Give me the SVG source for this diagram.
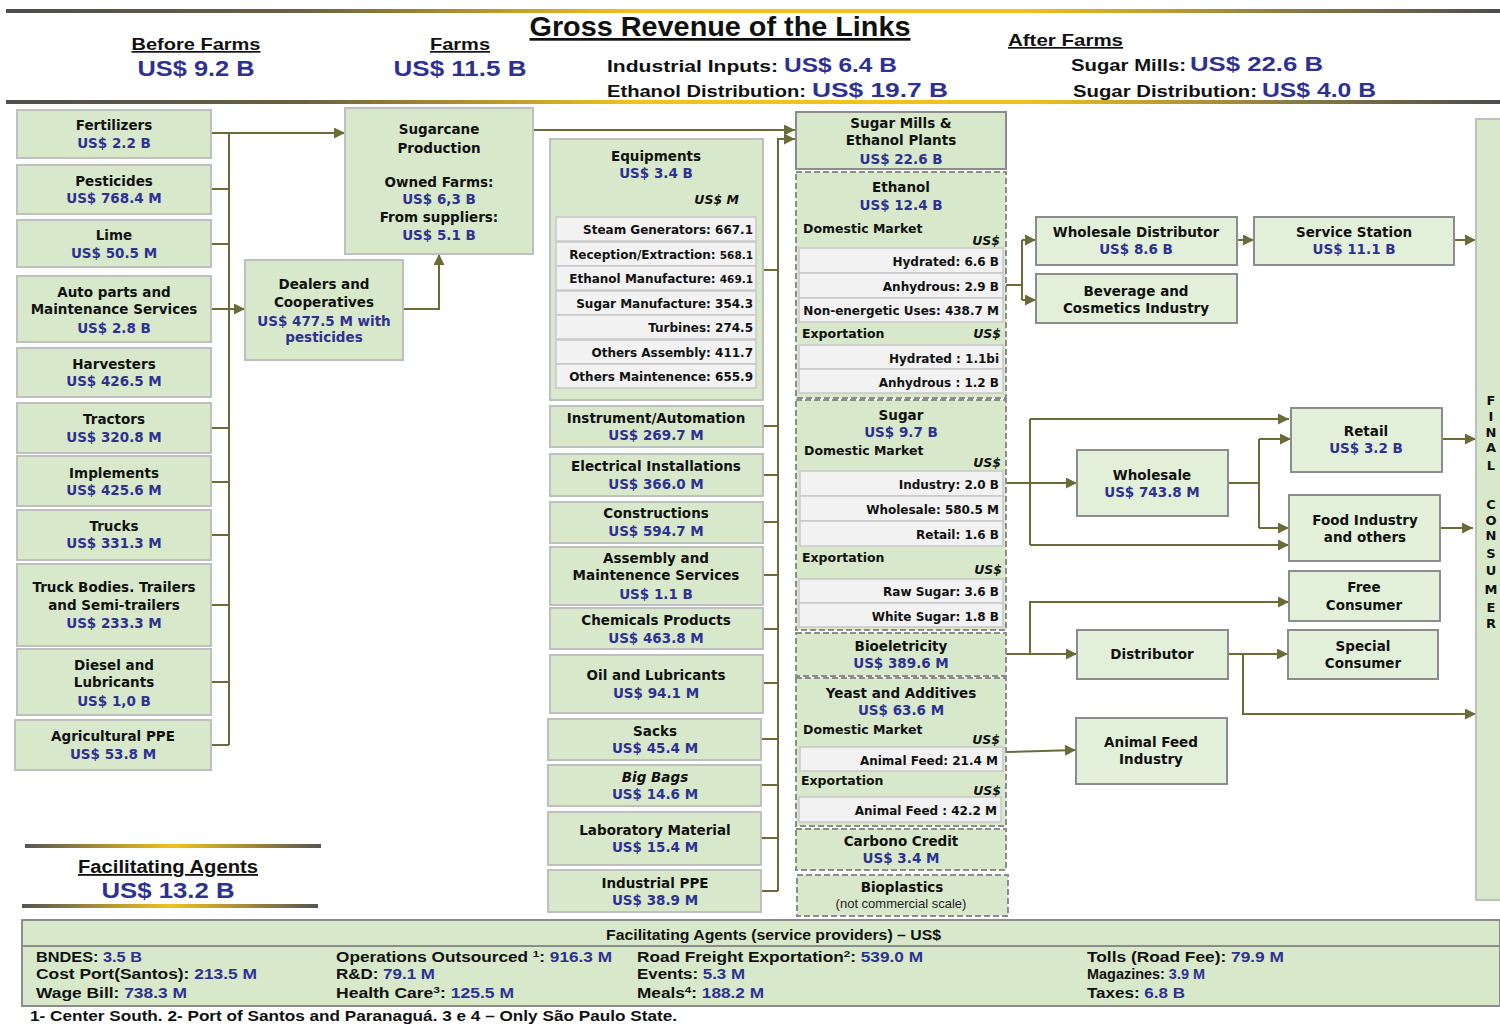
<svg xmlns="http://www.w3.org/2000/svg" width="1500" height="1024" viewBox="0 0 1500 1024">
<defs>
<linearGradient id="gh" x1="0" y1="0" x2="1" y2="0">
<stop offset="0" stop-color="#4d4d4d"/><stop offset="0.2" stop-color="#6b6142"/><stop offset="0.42" stop-color="#f2c21b"/><stop offset="0.68" stop-color="#f2c21b"/><stop offset="0.86" stop-color="#8a7a45"/><stop offset="1" stop-color="#4d4d4d"/>
</linearGradient>
<linearGradient id="gf" x1="0" y1="0" x2="1" y2="0">
<stop offset="0" stop-color="#555555"/><stop offset="0.5" stop-color="#f2c21b"/><stop offset="1" stop-color="#555555"/>
</linearGradient>
<marker id="a" viewBox="0 0 10 10" refX="10" refY="5" markerWidth="12" markerHeight="11" markerUnits="userSpaceOnUse" orient="auto"><path d="M0,0 L10,5 L0,10 z" fill="#6b6b3a"/></marker>
<style>
.b{fill:#d8e9cb;stroke:#bfbfbf;stroke-width:2}
.r{fill:#e3f0d9;stroke:#8c8c8c;stroke-width:2}
.s{fill:#d8e9cb;stroke:#8c8c8c;stroke-width:2}
.d{fill:#d8e9cb;stroke:#8c8c8c;stroke-width:2;stroke-dasharray:6 3}
.row{fill:#f2f2f2;stroke:#c8c8c8;stroke-width:1.5}
.t{font-family:"DejaVu Sans",Verdana,sans-serif;font-weight:bold;font-size:13.5px;fill:#111;text-anchor:middle}
.v{fill:#2e3192}
.rt{font-family:"DejaVu Sans",Verdana,sans-serif;font-weight:bold;font-size:12px;fill:#111;text-anchor:end}
.lt{font-family:"DejaVu Sans",Verdana,sans-serif;font-weight:bold;font-size:12.5px;fill:#111}
.us{font-family:"DejaVu Sans",Verdana,sans-serif;font-weight:bold;font-style:italic;font-size:12.5px;fill:#111;text-anchor:end}
.c{fill:none;stroke:#6b6b3a;stroke-width:2}
.ca{fill:none;stroke:#6b6b3a;stroke-width:2;marker-end:url(#a)}
.h{font-family:"Liberation Sans",Arial,sans-serif;font-weight:bold;fill:#111}
.hv{font-family:"Liberation Sans",Arial,sans-serif;font-weight:bold;fill:#2e3192}
.f{font-family:"Liberation Sans",Arial,sans-serif;font-weight:bold;font-size:14px;fill:#111}
.fc{font-family:"DejaVu Sans",Verdana,sans-serif;font-weight:bold;font-size:13px;fill:#111;text-anchor:middle}
</style>
</defs>
<rect width="1500" height="1024" fill="#ffffff"/>

<g id="header">
<rect x="6" y="9" width="1494" height="4" fill="url(#gh)"/>
<rect x="6" y="100" width="1494" height="4" fill="url(#gh)"/>
<text class="h" x="720" y="36" font-size="27" text-anchor="middle" text-decoration="underline" textLength="381" lengthAdjust="spacingAndGlyphs">Gross Revenue of the Links</text>
<text class="h" x="196" y="50" font-size="17" text-anchor="middle" text-decoration="underline" textLength="129" lengthAdjust="spacingAndGlyphs">Before Farms</text>
<text class="hv" x="196" y="76" font-size="22" text-anchor="middle" textLength="117" lengthAdjust="spacingAndGlyphs">US$ 9.2 B</text>
<text class="h" x="460" y="50" font-size="17" text-anchor="middle" text-decoration="underline" textLength="60" lengthAdjust="spacingAndGlyphs">Farms</text>
<text class="hv" x="460" y="76" font-size="22" text-anchor="middle" textLength="133" lengthAdjust="spacingAndGlyphs">US$ 11.5 B</text>
<text class="h" x="607" y="72" font-size="17" textLength="171" lengthAdjust="spacingAndGlyphs">Industrial Inputs:</text>
<text class="hv" x="784" y="72" font-size="21" textLength="113" lengthAdjust="spacingAndGlyphs">US$ 6.4 B</text>
<text class="h" x="607" y="97" font-size="17" textLength="199" lengthAdjust="spacingAndGlyphs">Ethanol Distribution:</text>
<text class="hv" x="812" y="97" font-size="21" textLength="136" lengthAdjust="spacingAndGlyphs">US$  19.7 B</text>
<text class="h" x="1008" y="46" font-size="17" text-decoration="underline" textLength="115" lengthAdjust="spacingAndGlyphs">After Farms</text>
<text class="h" x="1071" y="71" font-size="17" textLength="115" lengthAdjust="spacingAndGlyphs">Sugar Mills:</text>
<text class="hv" x="1190" y="71" font-size="21" textLength="133" lengthAdjust="spacingAndGlyphs">US$ 22.6 B</text>
<text class="h" x="1073" y="97" font-size="17" textLength="184" lengthAdjust="spacingAndGlyphs">Sugar Distribution:</text>
<text class="hv" x="1262" y="97" font-size="21" textLength="114" lengthAdjust="spacingAndGlyphs">US$ 4.0 B</text>
</g>

<g id="connectors">
<path class="c" d="M229,133 V745"/>
<path class="ca" d="M211,133 H345"/>
<path class="c" d="M211,189 H229 M211,244 H229 M211,428 H229 M211,482 H229 M211,535 H229 M211,605 H229 M211,682 H229 M211,745 H229"/>
<path class="ca" d="M211,309 H245"/>
<path class="ca" d="M403,309 H439 V254"/>
<path class="ca" d="M533,130 H795"/>
<path class="ca" d="M778,891 V139 H795"/>
<path class="c" d="M763,270 H778 M763,426 H778 M763,475 H778 M763,522 H778 M763,575 H778 M763,629 H778 M763,683 H778 M761,739 H778 M761,785 H778 M761,838 H778 M761,891 H778"/>
<path class="c" d="M1006,285 H1022 M1022,240 V300"/>
<path class="ca" d="M1022,240 H1036"/>
<path class="ca" d="M1022,300 H1036"/>
<path class="ca" d="M1237,240 H1254"/>
<path class="ca" d="M1454,240 H1476"/>
<path class="ca" d="M1006,483 H1077"/>
<path class="c" d="M1030,419 V545"/>
<path class="ca" d="M1030,419 H1289"/>
<path class="ca" d="M1030,545 H1289"/>
<path class="c" d="M1228,483 H1259 M1259,439 V528"/>
<path class="ca" d="M1259,439 H1291"/>
<path class="ca" d="M1259,528 H1289"/>
<path class="ca" d="M1442,439 H1476"/>
<path class="ca" d="M1440,528 H1473"/>
<path class="ca" d="M1006,654 H1077"/>
<path class="ca" d="M1030,654 V602 H1289"/>
<path class="ca" d="M1228,654 H1288"/>
<path class="ca" d="M1243,654 V714 H1476"/>
<path class="ca" d="M1006,752 L1076,750"/>
</g>

<g id="fertilizers"><rect class="b" x="17" y="110" width="194" height="48"/><text class="t" x="114" y="130">Fertilizers</text><text class="t v" x="114" y="148">US$ 2.2 B</text></g>
<g id="pesticides"><rect class="b" x="17" y="165" width="194" height="49"/><text class="t" x="114" y="186">Pesticides</text><text class="t v" x="114" y="203">US$ 768.4 M</text></g>
<g id="lime"><rect class="b" x="17" y="220" width="194" height="47"/><text class="t" x="114" y="240">Lime</text><text class="t v" x="114" y="258">US$ 50.5 M</text></g>
<g id="autoparts"><rect class="b" x="17" y="276" width="194" height="66"/><text class="t" x="114" y="297">Auto parts and</text><text class="t" x="114" y="314">Maintenance  Services</text><text class="t v" x="114" y="333">US$ 2.8 B</text></g>
<g id="harvesters"><rect class="b" x="17" y="348" width="194" height="49"/><text class="t" x="114" y="369">Harvesters</text><text class="t v" x="114" y="386">US$ 426.5 M</text></g>
<g id="tractors"><rect class="b" x="17" y="403" width="194" height="50"/><text class="t" x="114" y="424">Tractors</text><text class="t v" x="114" y="442">US$ 320.8 M</text></g>
<g id="implements"><rect class="b" x="17" y="456" width="194" height="50"/><text class="t" x="114" y="478">Implements</text><text class="t v" x="114" y="495">US$ 425.6 M</text></g>
<g id="trucks"><rect class="b" x="17" y="510" width="194" height="50"/><text class="t" x="114" y="531">Trucks</text><text class="t v" x="114" y="548">US$ 331.3 M</text></g>
<g id="truckbodies"><rect class="b" x="17" y="564" width="194" height="82"/><text class="t" x="114" y="592">Truck Bodies. Trailers</text><text class="t" x="114" y="610">and Semi-trailers</text><text class="t v" x="114" y="628">US$ 233.3 M</text></g>
<g id="diesel"><rect class="b" x="17" y="649" width="194" height="66"/><text class="t" x="114" y="670">Diesel and</text><text class="t" x="114" y="687">Lubricants</text><text class="t v" x="114" y="706">US$ 1,0 B</text></g>
<g id="agrippe"><rect class="b" x="15" y="720" width="196" height="50"/><text class="t" x="113" y="741">Agricultural  PPE</text><text class="t v" x="113" y="759">US$ 53.8 M</text></g>

<g id="sugarcane"><rect class="b" x="345" y="108" width="188" height="146"/><text class="t" x="439" y="134">Sugarcane</text><text class="t" x="439" y="153">Production</text><text class="t" x="439" y="187">Owned Farms:</text><text class="t v" x="439" y="204">US$ 6,3 B</text><text class="t" x="439" y="222">From suppliers:</text><text class="t v" x="439" y="240">US$ 5.1 B</text></g>
<g id="dealers"><rect class="b" x="245" y="260" width="158" height="100"/><text class="t" x="324" y="289">Dealers and</text><text class="t" x="324" y="307">Cooperatives</text><text class="t v" x="324" y="326">US$ 477.5 M with</text><text class="t v" x="324" y="342">pesticides</text></g>

<g id="equipments"><rect class="b" x="550" y="139" width="213" height="261"/><text class="t" x="656" y="161">Equipments</text><text class="t v" x="656" y="178">US$ 3.4 B</text><text class="us" x="739" y="204">US$ M</text>
<rect class="row" x="556" y="217" width="200" height="24"/><text class="rt" x="753" y="234">Steam Generators: 667.1</text>
<rect class="row" x="556" y="242" width="200" height="24"/><text class="rt" x="753" y="259">Reception/Extraction: <tspan font-size="10.5">568.1</tspan></text>
<rect class="row" x="556" y="266" width="200" height="24"/><text class="rt" x="753" y="283">Ethanol Manufacture: <tspan font-size="10.5">469.1</tspan></text>
<rect class="row" x="556" y="291" width="200" height="24"/><text class="rt" x="753" y="308">Sugar Manufacture: 354.3</text>
<rect class="row" x="556" y="315" width="200" height="24"/><text class="rt" x="753" y="332">Turbines: 274.5</text>
<rect class="row" x="556" y="340" width="200" height="24"/><text class="rt" x="753" y="357">Others Assembly: 411.7</text>
<rect class="row" x="556" y="364" width="200" height="24"/><text class="rt" x="753" y="381">Others Maintenence: 655.9</text></g>
<g id="instrument"><rect class="b" x="550" y="406" width="213" height="41"/><text class="t" x="656" y="423">Instrument/Automation</text><text class="t v" x="656" y="440">US$ 269.7 M</text></g>
<g id="electrical"><rect class="b" x="550" y="454" width="213" height="42"/><text class="t" x="656" y="471">Electrical Installations</text><text class="t v" x="656" y="489">US$ 366.0 M</text></g>
<g id="constructions"><rect class="b" x="550" y="502" width="213" height="41"/><text class="t" x="656" y="518">Constructions</text><text class="t v" x="656" y="536">US$  594.7 M</text></g>
<g id="assembly"><rect class="b" x="550" y="547" width="213" height="58"/><text class="t" x="656" y="563">Assembly and</text><text class="t" x="656" y="580">Maintenence  Services</text><text class="t v" x="656" y="599">US$ 1.1 B</text></g>
<g id="chemicals"><rect class="b" x="550" y="608" width="213" height="41"/><text class="t" x="656" y="625">Chemicals Products</text><text class="t v" x="656" y="643">US$ 463.8 M</text></g>
<g id="oil"><rect class="b" x="550" y="655" width="213" height="58"/><text class="t" x="656" y="680">Oil and Lubricants</text><text class="t v" x="656" y="698">US$ 94.1 M</text></g>
<g id="sacks"><rect class="b" x="548" y="719" width="213" height="41"/><text class="t" x="655" y="736">Sacks</text><text class="t v" x="655" y="753">US$  45.4 M</text></g>
<g id="bigbags"><rect class="b" x="548" y="765" width="213" height="41"/><text class="t" x="655" y="782" font-style="italic">Big Bags</text><text class="t v" x="655" y="799">US$ 14.6 M</text></g>
<g id="laboratory"><rect class="b" x="548" y="812" width="213" height="53"/><text class="t" x="655" y="835">Laboratory Material</text><text class="t v" x="655" y="852">US$ 15.4 M</text></g>
<g id="industrialppe"><rect class="b" x="548" y="870" width="213" height="42"/><text class="t" x="655" y="888">Industrial  PPE</text><text class="t v" x="655" y="905">US$ 38.9 M</text></g>

<g id="sugarmills"><rect class="s" x="796" y="112" width="210" height="57"/><text class="t" x="901" y="128">Sugar Mills &amp;</text><text class="t" x="901" y="145">Ethanol Plants</text><text class="t v" x="901" y="164">US$ 22.6 B</text></g>
<g id="ethanol"><rect class="d" x="796" y="172" width="210" height="226"/><text class="t" x="901" y="192">Ethanol</text><text class="t v" x="901" y="210">US$  12.4 B</text>
<text class="lt" x="803" y="233">Domestic Market</text><text class="us" x="1000" y="245">US$</text>
<rect class="row" x="799" y="248" width="204" height="25"/><text class="rt" x="999" y="266">Hydrated: 6.6 B</text>
<rect class="row" x="799" y="273" width="204" height="25"/><text class="rt" x="999" y="291">Anhydrous: 2.9 B</text>
<rect class="row" x="799" y="298" width="204" height="24"/><text class="rt" x="999" y="315" font-size="11">Non-energetic Uses: 438.7 M</text>
<text class="lt" x="802" y="338">Exportation</text><text class="us" x="1001" y="338">US$</text>
<rect class="row" x="799" y="345" width="204" height="24"/><text class="rt" x="999" y="363">Hydrated : 1.1bi</text>
<rect class="row" x="799" y="369" width="204" height="24"/><text class="rt" x="999" y="387">Anhydrous : 1.2 B</text></g>
<g id="sugar"><rect class="d" x="796" y="400" width="210" height="230"/><text class="t" x="901" y="420">Sugar</text><text class="t v" x="901" y="437">US$  9.7 B</text>
<text class="lt" x="804" y="455">Domestic Market</text><text class="us" x="1001" y="467">US$</text>
<rect class="row" x="800" y="471" width="203" height="25"/><text class="rt" x="999" y="489">Industry: 2.0 B</text>
<rect class="row" x="800" y="496" width="203" height="25"/><text class="rt" x="999" y="514">Wholesale: 580.5 M</text>
<rect class="row" x="800" y="521" width="203" height="25"/><text class="rt" x="999" y="539">Retail: 1.6 B</text>
<text class="lt" x="802" y="562">Exportation</text><text class="us" x="1002" y="574">US$</text>
<rect class="row" x="799" y="579" width="204" height="24"/><text class="rt" x="999" y="596">Raw Sugar: 3.6 B</text>
<rect class="row" x="799" y="603" width="204" height="24"/><text class="rt" x="999" y="621">White Sugar: 1.8 B</text></g>
<g id="bioeletricity"><rect class="d" x="796" y="633" width="210" height="43"/><text class="t" x="901" y="651">Bioeletricity</text><text class="t v" x="901" y="668">US$ 389.6 M</text></g>
<g id="yeast"><rect class="d" x="796" y="678" width="210" height="148"/><text class="t" x="901" y="698">Yeast and  Additives</text><text class="t v" x="901" y="715">US$  63.6 M</text>
<text class="lt" x="803" y="734">Domestic Market</text><text class="us" x="1000" y="744">US$</text>
<rect class="row" x="800" y="747" width="203" height="24"/><text class="rt" x="998" y="765">Animal Feed: 21.4 M</text>
<text class="lt" x="801" y="785">Exportation</text><text class="us" x="1001" y="795">US$</text>
<rect class="row" x="799" y="797" width="202" height="25"/><text class="rt" x="997" y="815">Animal Feed :  42.2 M</text></g>
<g id="carbono"><rect class="d" x="796" y="829" width="210" height="41"/><text class="t" x="901" y="846">Carbono Credit</text><text class="t v" x="901" y="863">US$ 3.4 M</text></g>
<g id="bioplastics"><rect class="d" x="797" y="875" width="211" height="41"/><text class="t" x="902" y="892">Bioplastics</text><text x="901" y="908" font-family="Liberation Sans, Arial, sans-serif" font-size="13" fill="#222" text-anchor="middle">(not commercial scale)</text></g>

<g id="wholesaledistributor"><rect class="r" x="1036" y="217" width="201" height="48"/><text class="t" x="1136" y="237">Wholesale  Distributor</text><text class="t v" x="1136" y="254">US$ 8.6 B</text></g>
<g id="beverage"><rect class="r" x="1036" y="274" width="201" height="49"/><text class="t" x="1136" y="296">Beverage and</text><text class="t" x="1136" y="313">Cosmetics Industry</text></g>
<g id="servicestation"><rect class="r" x="1254" y="217" width="200" height="48"/><text class="t" x="1354" y="237">Service Station</text><text class="t v" x="1354" y="254">US$ 11.1 B</text></g>
<g id="wholesale"><rect class="r" x="1077" y="450" width="151" height="66"/><text class="t" x="1152" y="480">Wholesale</text><text class="t v" x="1152" y="497">US$ 743.8 M</text></g>
<g id="retail"><rect class="r" x="1291" y="408" width="151" height="64"/><text class="t" x="1366" y="436">Retail</text><text class="t v" x="1366" y="453">US$ 3.2 B</text></g>
<g id="foodindustry"><rect class="r" x="1289" y="495" width="151" height="66"/><text class="t" x="1365" y="525">Food Industry</text><text class="t" x="1365" y="542">and others</text></g>
<g id="freeconsumer"><rect class="r" x="1289" y="571" width="151" height="50"/><text class="t" x="1364" y="592">Free</text><text class="t" x="1364" y="610">Consumer</text></g>
<g id="distributor"><rect class="r" x="1077" y="630" width="151" height="49"/><text class="t" x="1152" y="659">Distributor</text></g>
<g id="specialconsumer"><rect class="r" x="1288" y="630" width="150" height="49"/><text class="t" x="1363" y="651">Special</text><text class="t" x="1363" y="668">Consumer</text></g>
<g id="animalfeed"><rect class="r" x="1076" y="718" width="151" height="66"/><text class="t" x="1151" y="747">Animal Feed</text><text class="t" x="1151" y="764">Industry</text></g>

<g id="finalconsumer"><rect class="b" x="1476" y="119" width="30" height="781"/>
<text class="fc" x="1491" y="405">F</text><text class="fc" x="1491" y="421">I</text><text class="fc" x="1491" y="437">N</text><text class="fc" x="1491" y="452">A</text><text class="fc" x="1491" y="470">L</text>
<text class="fc" x="1491" y="509">C</text><text class="fc" x="1491" y="525">O</text><text class="fc" x="1491" y="540">N</text><text class="fc" x="1491" y="558">S</text><text class="fc" x="1491" y="575">U</text><text class="fc" x="1491" y="594">M</text><text class="fc" x="1491" y="612">E</text><text class="fc" x="1491" y="628">R</text></g>

<g id="facilitating-total">
<rect x="25" y="844" width="296" height="4" fill="url(#gf)"/>
<rect x="22" y="904" width="296" height="4" fill="url(#gf)"/>
<text class="h" x="168" y="873" font-size="18" text-anchor="middle" text-decoration="underline" textLength="180" lengthAdjust="spacingAndGlyphs">Facilitating Agents</text>
<text class="hv" x="168" y="898" font-size="22" text-anchor="middle" textLength="133" lengthAdjust="spacingAndGlyphs">US$ 13.2 B</text>
</g>

<g id="facilitating-agents">
<rect class="s" x="22" y="920" width="1478" height="86"/>
<line x1="22" y1="946" x2="1500" y2="946" stroke="#8c8c8c" stroke-width="2"/>
<text class="f" x="606" y="940" font-size="15" textLength="335" lengthAdjust="spacingAndGlyphs">Facilitating Agents (service providers) – US$</text>
<text class="f" x="36" y="962" textLength="106" lengthAdjust="spacingAndGlyphs">BNDES: <tspan class="v">3.5 B</tspan></text>
<text class="f" x="36" y="979" textLength="221" lengthAdjust="spacingAndGlyphs">Cost Port(Santos):   <tspan class="v">213.5 M</tspan></text>
<text class="f" x="36" y="998" textLength="151" lengthAdjust="spacingAndGlyphs">Wage Bill: <tspan class="v">738.3 M</tspan></text>
<text class="f" x="336" y="962" textLength="276" lengthAdjust="spacingAndGlyphs">Operations Outsourced <tspan font-size="9.5" dy="-5">1</tspan><tspan dy="5">: </tspan><tspan class="v">916.3 M</tspan></text>
<text class="f" x="336" y="979" textLength="99" lengthAdjust="spacingAndGlyphs">R&amp;D: <tspan class="v">79.1 M</tspan></text>
<text class="f" x="336" y="998" textLength="178" lengthAdjust="spacingAndGlyphs">Health Care<tspan font-size="9.5" dy="-5">3</tspan><tspan dy="5">: </tspan><tspan class="v">125.5 M</tspan></text>
<text class="f" x="637" y="962" textLength="286" lengthAdjust="spacingAndGlyphs">Road Freight Exportation<tspan font-size="9.5" dy="-5">2</tspan><tspan dy="5">: </tspan><tspan class="v">539.0 M</tspan></text>
<text class="f" x="637" y="979" textLength="108" lengthAdjust="spacingAndGlyphs">Events: <tspan class="v">5.3 M</tspan></text>
<text class="f" x="637" y="998" textLength="127" lengthAdjust="spacingAndGlyphs">Meals<tspan font-size="9.5" dy="-5">4</tspan><tspan dy="5">: </tspan><tspan class="v">188.2 M</tspan></text>
<text class="f" x="1087" y="962" textLength="197" lengthAdjust="spacingAndGlyphs">Tolls (Road Fee): <tspan class="v">79.9 M</tspan></text>
<text class="f" x="1087" y="979" font-size="14.5" textLength="118" lengthAdjust="spacingAndGlyphs">Magazines: <tspan class="v">3.9 M</tspan></text>
<text class="f" x="1087" y="998" textLength="98" lengthAdjust="spacingAndGlyphs">Taxes: <tspan class="v">6.8 B</tspan></text>
</g>
<text class="f" x="30" y="1021" font-size="15" textLength="647" lengthAdjust="spacingAndGlyphs">1- Center South.  2- Port of Santos and Paranaguá.  3 e 4 – Only São Paulo State.</text>
</svg>
